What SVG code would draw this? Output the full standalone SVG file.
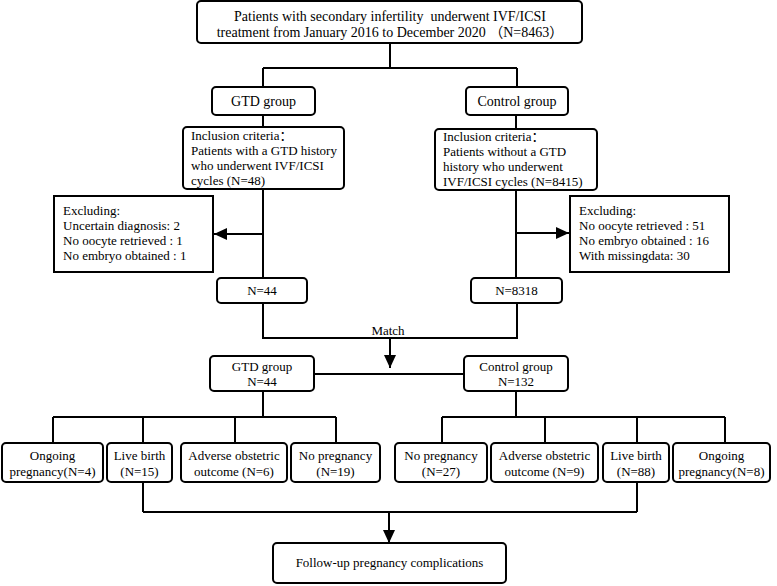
<svg xmlns="http://www.w3.org/2000/svg" width="777" height="586" viewBox="0 0 777 586">
<style>
.b{fill:#fff;stroke:#000;stroke-width:2}
.t{font-family:"Liberation Serif","Noto Sans CJK SC",serif;font-size:13px;fill:#000}
.l{font-size:14px}
.c{text-anchor:middle}
.e{fill:none;stroke:#000;stroke-width:2}
</style>
<defs>
<marker id="ah" markerUnits="userSpaceOnUse" markerWidth="14" markerHeight="12" refX="13" refY="6" orient="auto">
<path d="M0,0 L13,6 L0,12 Z" fill="#000"/>
</marker>
</defs>
<g id="connectors" class="e">
<path d="M390 43 V68 M263 68 H517 M263 68 V87 M517 68 V87"/>
<path d="M263 115 V127 M516 115 V129"/>
<path d="M263 189 V278 M516 190 V278"/>
<path d="M263 234 H214" marker-end="url(#ah)"/>
<path d="M516 233 H569" marker-end="url(#ah)"/>
<path d="M263 303 V338 H517 V303"/>
<path d="M390 338 V368" marker-end="url(#ah)"/>
<path d="M314 374 H464"/>
<path d="M263 391 V417 M53 417 H336 M53 417 V443 M143 417 V443 M235 417 V443 M336 417 V443"/>
<path d="M516 391 V417 M442 417 H725 M442 417 V443 M545 417 V443 M637 417 V443 M725 417 V443"/>
<path d="M143 482 V512 M637 482 V512 M143 512 H637"/>
<path d="M389 512 V543" marker-end="url(#ah)"/>
</g>
<g id="top">
<rect class="b" x="197" y="1" width="385" height="42" rx="4"/>
<text class="t l c" x="390" y="21">Patients with secondary infertility&#160; underwent IVF/ICSI</text>
<text class="t l c" x="390" y="37">treatment from January 2016 to December 2020 （N=8463）</text>
</g>
<g id="gtd-group">
<rect class="b" x="212" y="87" width="103" height="28" rx="4"/>
<text class="t l c" x="263.5" y="106">GTD group</text>
</g>
<g id="control-group">
<rect class="b" x="466" y="87" width="102" height="28" rx="4"/>
<text class="t l c" x="517" y="106">Control group</text>
</g>
<g id="incl-gtd">
<rect class="b" x="183" y="127" width="161" height="62" rx="4"/>
<text class="t" x="191" y="140">Inclusion criteria：</text>
<text class="t" x="191" y="155">Patients with a GTD history</text>
<text class="t" x="191" y="170">who underwent IVF/ICSI</text>
<text class="t" x="191" y="185">cycles (N=48)</text>
</g>
<g id="incl-control">
<rect class="b" x="435" y="129" width="162" height="61" rx="4"/>
<text class="t" x="443" y="141">Inclusion criteria：</text>
<text class="t" x="443" y="156">Patients without a GTD</text>
<text class="t" x="443" y="171">history who underwent</text>
<text class="t" x="443" y="186">IVF/ICSI cycles (N=8415)</text>
</g>
<g id="excl-gtd">
<rect class="b" x="54" y="196" width="159" height="76"/>
<text class="t" x="63" y="215">Excluding:</text>
<text class="t" x="63" y="230">Uncertain diagnosis: 2</text>
<text class="t" x="63" y="245">No oocyte retrieved : 1</text>
<text class="t" x="63" y="260">No embryo obtained : 1</text>
</g>
<g id="excl-control">
<rect class="b" x="570" y="196" width="159" height="76"/>
<text class="t" x="579" y="215">Excluding:</text>
<text class="t" x="579" y="230">No oocyte retrieved : 51</text>
<text class="t" x="579" y="245">No embryo obtained : 16</text>
<text class="t" x="579" y="260">With missingdata: 30</text>
</g>
<g id="n44">
<rect class="b" x="217" y="278" width="90" height="25" rx="4"/>
<text class="t c" x="262" y="295">N=44</text>
</g>
<g id="n8318">
<rect class="b" x="471" y="278" width="91" height="25" rx="4"/>
<text class="t c" x="516.5" y="295">N=8318</text>
</g>
<g id="match-label">
<text class="t c" x="388" y="335">Match</text>
</g>
<g id="gtd-matched">
<rect class="b" x="210" y="356" width="104" height="35" rx="4"/>
<text class="t c" x="262" y="371">GTD group</text>
<text class="t c" x="262" y="386">N=44</text>
</g>
<g id="control-matched">
<rect class="b" x="464" y="356" width="104" height="35" rx="4"/>
<text class="t c" x="516" y="371">Control group</text>
<text class="t c" x="516" y="386">N=132</text>
</g>
<g id="g-ongoing">
<rect class="b" x="2" y="443" width="101" height="39" rx="4"/>
<text class="t c" x="52.5" y="460">Ongoing</text>
<text class="t c" x="52.5" y="476">pregnancy(N=4)</text>
</g>
<g id="g-live">
<rect class="b" x="107" y="443" width="65" height="39" rx="4"/>
<text class="t c" x="139.5" y="460">Live birth</text>
<text class="t c" x="139.5" y="476">(N=15)</text>
</g>
<g id="g-adverse">
<rect class="b" x="181" y="443" width="106" height="39" rx="4"/>
<text class="t c" x="234" y="460">Adverse obstetric</text>
<text class="t c" x="234" y="476">outcome (N=6)</text>
</g>
<g id="g-nopreg">
<rect class="b" x="291" y="443" width="89" height="39" rx="4"/>
<text class="t c" x="335.5" y="460">No pregnancy</text>
<text class="t c" x="335.5" y="476">(N=19)</text>
</g>
<g id="c-nopreg">
<rect class="b" x="395" y="443" width="92" height="39" rx="4"/>
<text class="t c" x="441" y="460">No pregnancy</text>
<text class="t c" x="441" y="476">(N=27)</text>
</g>
<g id="c-adverse">
<rect class="b" x="491" y="443" width="107" height="39" rx="4"/>
<text class="t c" x="544.5" y="460">Adverse obstetric</text>
<text class="t c" x="544.5" y="476">outcome (N=9)</text>
</g>
<g id="c-live">
<rect class="b" x="603" y="443" width="66" height="39" rx="4"/>
<text class="t c" x="636" y="460">Live birth</text>
<text class="t c" x="636" y="476">(N=88)</text>
</g>
<g id="c-ongoing">
<rect class="b" x="673" y="443" width="97" height="39" rx="4"/>
<text class="t c" x="721.5" y="460">Ongoing</text>
<text class="t c" x="721.5" y="476">pregnancy(N=8)</text>
</g>
<g id="followup">
<rect class="b" x="273" y="543" width="233" height="40" rx="4"/>
<text class="t c" x="389.5" y="567">Follow-up pregnancy complications</text>
</g>
</svg>
